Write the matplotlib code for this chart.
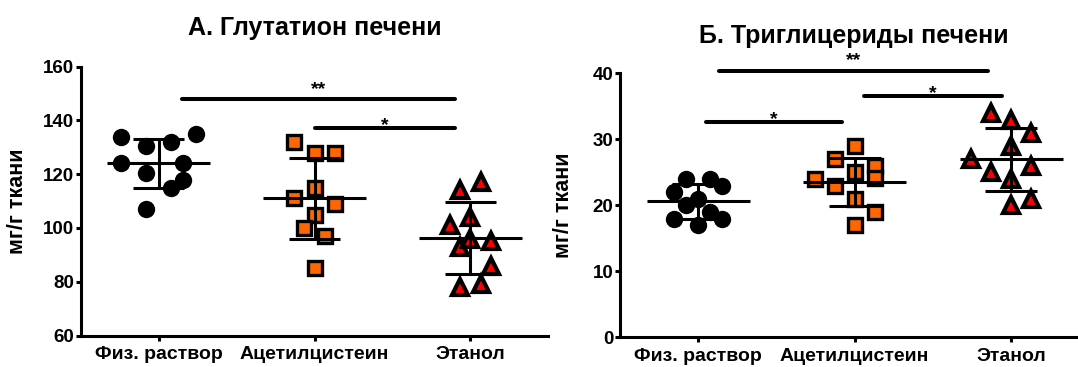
import numpy as np
import matplotlib
matplotlib.use("Agg")
import matplotlib.pyplot as plt

plt.rcParams['font.family'] = ['Liberation Sans', 'DejaVu Sans']
plt.rcParams['font.weight'] = 'bold'

groups = ['Физ. раствор', 'Ацетилцистеин', 'Этанол']

# A. liver glutathione, mg/g tissue
gsh_saline = [134, 135, 130.5, 132, 124, 124, 120.5, 118, 115, 107]
gsh_saline_dx = [-0.24, 0.24, -0.08, 0.08, -0.24, 0.16, -0.08, 0.16, 0.08, -0.08]
gsh_nac = [132, 128, 128, 115, 111, 109, 105, 100, 97, 85]
gsh_nac_dx = [-0.13, 0, 0.13, 0, -0.13, 0.13, 0, -0.065, 0.065, 0]
gsh_eth = [114, 117, 101, 104, 93, 96, 95, 86, 78, 79]
gsh_eth_dx = [-0.065, 0.065, -0.13, 0, -0.065, 0, 0.13, 0.13, -0.065, 0.065]
gsh_sig = [(0.15, 1.90, 147.9, '**'), (1.00, 1.90, 137.1, '*')]

# B. liver triglycerides, mg/g tissue
tg_saline = [24, 24, 23, 22, 21, 20, 19, 18, 18, 17]
tg_saline_dx = [-0.077, 0.073, 0.154, -0.154, 0, -0.077, 0.073, -0.154, 0.154, 0]
tg_nac = [29, 27, 26, 25, 24.2, 24, 23, 21, 19, 17]
tg_nac_dx = [0, -0.127, 0.132, 0, 0.132, -0.253, -0.127, 0, 0.132, 0]
tg_eth = [34, 33, 31, 29, 27, 26, 25, 24, 21, 20]
tg_eth_dx = [-0.13, 0, 0.127, 0, -0.257, 0.127, -0.13, 0, 0.127, 0]
tg_sig = [(0.13, 1.85, 40.4, '**'), (1.06, 1.94, 36.5, '*'), (0.05, 0.92, 32.55, '*')]

marker_styles = [
    dict(marker='o', markersize=12.5, markerfacecolor='black', markeredgecolor='black', markeredgewidth=0),
    dict(marker='s', markersize=10, markerfacecolor='#ff6600', markeredgecolor='black', markeredgewidth=2.4),
    dict(marker='^', markersize=12, markerfacecolor='#ff0000', markeredgecolor='black', markeredgewidth=3),
]


def scatter_panel(ax, series, offsets, sig, ylim, yticks):
    for i, (vals, dx) in enumerate(zip(series, offsets)):
        vals = np.asarray(vals, dtype=float)
        xs = i + np.asarray(dx)
        ax.plot(xs, vals, linestyle='none', zorder=2, clip_on=False, **marker_styles[i])
        m, sd = vals.mean(), vals.std(ddof=1)
        ax.hlines(m, i - 0.33, i + 0.33, color='black', lw=2.2, zorder=3)
        ax.hlines([m - sd, m + sd], i - 0.165, i + 0.165, color='black', lw=2.2, zorder=3)
        ax.vlines(i, m - sd, m + sd, color='black', lw=2.2, zorder=3)

    for x1, x2, y, label in sig:
        ax.plot([x1, x2], [y, y], color='black', lw=2.9, solid_capstyle='round',
                clip_on=False, zorder=3)
        off = 4 if label == '**' else -1
        ax.annotate(label, ((x1 + x2) / 2, y), xytext=(0, off), textcoords='offset points',
                    ha='center', va='baseline', fontsize=14, annotation_clip=False)

    ax.set_xlim(-0.5, 2.5)
    ax.set_ylim(*ylim)
    ax.set_yticks(yticks)
    ax.set_xticks(range(len(groups)))
    ax.set_xticklabels(groups, fontsize=14, fontweight='bold')
    ax.tick_params(axis='y', labelsize=13.5, width=2.2, length=3.6, pad=1)
    ax.tick_params(axis='x', width=2.2, length=3.6, pad=4)
    for lab in ax.get_yticklabels():
        lab.set_fontweight('bold')
    for side in ['top', 'right']:
        ax.spines[side].set_visible(False)
    for side in ['left', 'bottom']:
        ax.spines[side].set_linewidth(2.2)
    ax.set_ylabel('мг/г ткани', fontsize=15.5, fontweight='bold')


fig = plt.figure(figsize=(10.78, 3.67), dpi=100)
ax1 = fig.add_axes([0.0747, 0.0858, 0.4341, 0.7325])
ax2 = fig.add_axes([0.5751, 0.0804, 0.4355, 0.7199])

scatter_panel(ax1, [gsh_saline, gsh_nac, gsh_eth],
              [gsh_saline_dx, gsh_nac_dx, gsh_eth_dx], gsh_sig,
              (60, 160), [60, 80, 100, 120, 140, 160])
scatter_panel(ax2, [tg_saline, tg_nac, tg_eth],
              [tg_saline_dx, tg_nac_dx, tg_eth_dx], tg_sig,
              (0, 40), [0, 10, 20, 30, 40])

ax1.yaxis.set_label_coords(-0.113, 0.5)
ax2.yaxis.set_label_coords(-0.097, 0.5)

fig.text(0.2922, 0.9046, 'А. Глутатион печени', ha='center', va='baseline',
         fontsize=18, fontweight='bold')
fig.text(0.7922, 0.882, 'Б. Триглицериды печени', ha='center', va='baseline',
         fontsize=18, fontweight='bold')

fig.savefig('out.png', dpi=100)
